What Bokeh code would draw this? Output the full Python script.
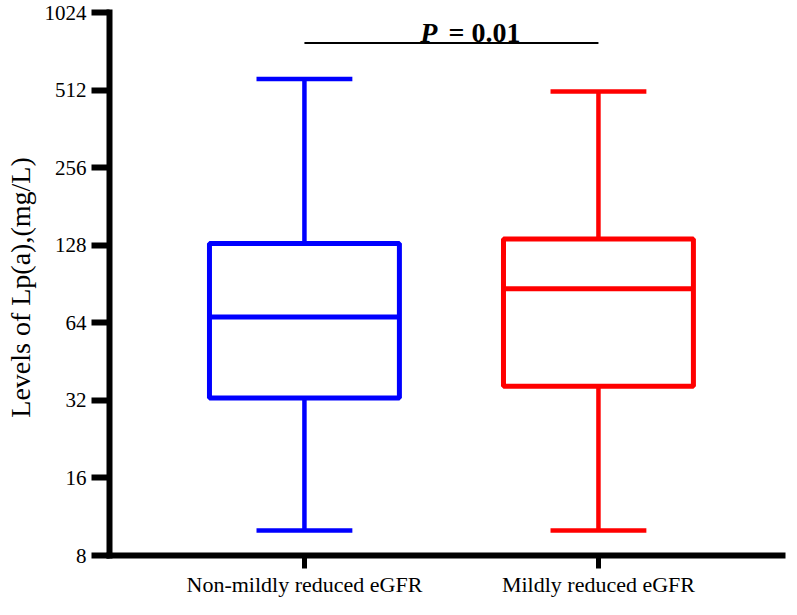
from bokeh.plotting import figure
from bokeh.models import Range1d, FixedTicker, ColumnDataSource
from bokeh.core.properties import value
from bokeh.embed import file_html
from bokeh.resources import INLINE

# ---- data ----
groups = ["Non-mildly reduced eGFR", "Mildly reduced eGFR"]
positions = [1, 2]
colors = ["#0000FF", "#FF0000"]
lower_whisker = [10.0, 10.0]
q1 = [32.7, 36.3]
median = [67.4, 86.7]
q3 = [130.0, 135.4]
upper_whisker = [565.0, 506.0]
y_ticks = [8, 16, 32, 64, 128, 256, 512, 1024]
p_label_value = 0.01
p_line_level = 780
p_text_level = 860

box_half = 0.323
cap_half = 0.163
FONT = "Liberation Serif"

p = figure(width=789, height=599, y_axis_type="log",
           x_range=Range1d(0.337, 2.626), y_range=Range1d(8, 1024),
           output_backend="svg", toolbar_location=None,
           min_border_left=109, min_border_right=7, min_border_top=12,
           min_border_bottom=30)
p.outline_line_color = None
p.xgrid.visible = False
p.ygrid.visible = False
p.background_fill_color = "white"
p.border_fill_color = "white"

src = ColumnDataSource(dict(
    x=positions,
    left=[x - box_half for x in positions],
    right=[x + box_half for x in positions],
    cl=[x - cap_half for x in positions],
    cr=[x + cap_half for x in positions],
    lo=lower_whisker, q1=q1, med=median, q3=q3, hi=upper_whisker,
    color=colors,
))

# whiskers
p.segment(x0="x", x1="x", y0="q3", y1="hi", line_color="color", line_width=4.5, source=src)
p.segment(x0="x", x1="x", y0="lo", y1="q1", line_color="color", line_width=4.5, source=src)
# caps
p.segment(x0="cl", x1="cr", y0="hi", y1="hi", line_color="color", line_width=4.5, source=src)
p.segment(x0="cl", x1="cr", y0="lo", y1="lo", line_color="color", line_width=4.5, source=src)
# boxes
p.quad(left="left", right="right", bottom="q1", top="q3", fill_color="white",
       line_color="color", line_width=5, source=src)
# medians
p.segment(x0="left", x1="right", y0="med", y1="med", line_color="color", line_width=5, source=src)

# significance bar
p.segment(x0=[positions[0]], x1=[positions[1]], y0=[p_line_level], y1=[p_line_level],
          line_color="black", line_width=2)
mid = (positions[0] + positions[1]) / 2
p.text(x=[mid], y=[p_text_level], text=["P"], text_font=value(FONT),
       text_font_size="28px", text_font_style="bold italic", text_align="right",
       text_baseline="alphabetic", x_offset=-14, text_color="black")
p.text(x=[mid], y=[p_text_level], text=["= %.2f" % p_label_value], text_font=value(FONT),
       text_font_size="28px", text_font_style="bold", text_align="left",
       text_baseline="alphabetic", x_offset=-3, text_color="black")

# axes
for ax in (p.xaxis[0], p.yaxis[0]):
    ax.axis_line_width = 6
    ax.axis_line_color = "black"
    ax.axis_line_cap = "square"
    ax.major_tick_line_width = 6
    ax.major_tick_line_color = "black"
    ax.major_tick_in = 0
    ax.minor_tick_line_color = None
    ax.major_label_text_color = "black"
    ax.major_label_text_font = FONT

p.xaxis.ticker = FixedTicker(ticks=positions)
p.xaxis.major_label_overrides = {positions[i]: groups[i] for i in range(2)}
p.xaxis.major_tick_out = 13
p.xaxis.major_tick_line_width = 5
p.xaxis.major_label_standoff = 3
p.xaxis.major_label_text_font_size = "22px"

p.yaxis.ticker = FixedTicker(ticks=y_ticks)
p.yaxis.major_label_overrides = {t: str(t) for t in y_ticks}
p.yaxis.major_tick_out = 18
p.yaxis.major_label_standoff = 5
p.yaxis.major_label_text_font_size = "21px"
p.yaxis.axis_label = "Levels of  Lp(a),(mg/L)"
p.yaxis.axis_label_text_font = FONT
p.yaxis.axis_label_text_font_style = "normal"
p.yaxis.axis_label_text_font_size = "28px"
p.yaxis.axis_label_text_color = "black"
p.yaxis.axis_label_standoff = 6

open("out.html", "w").write(file_html(p, INLINE))
